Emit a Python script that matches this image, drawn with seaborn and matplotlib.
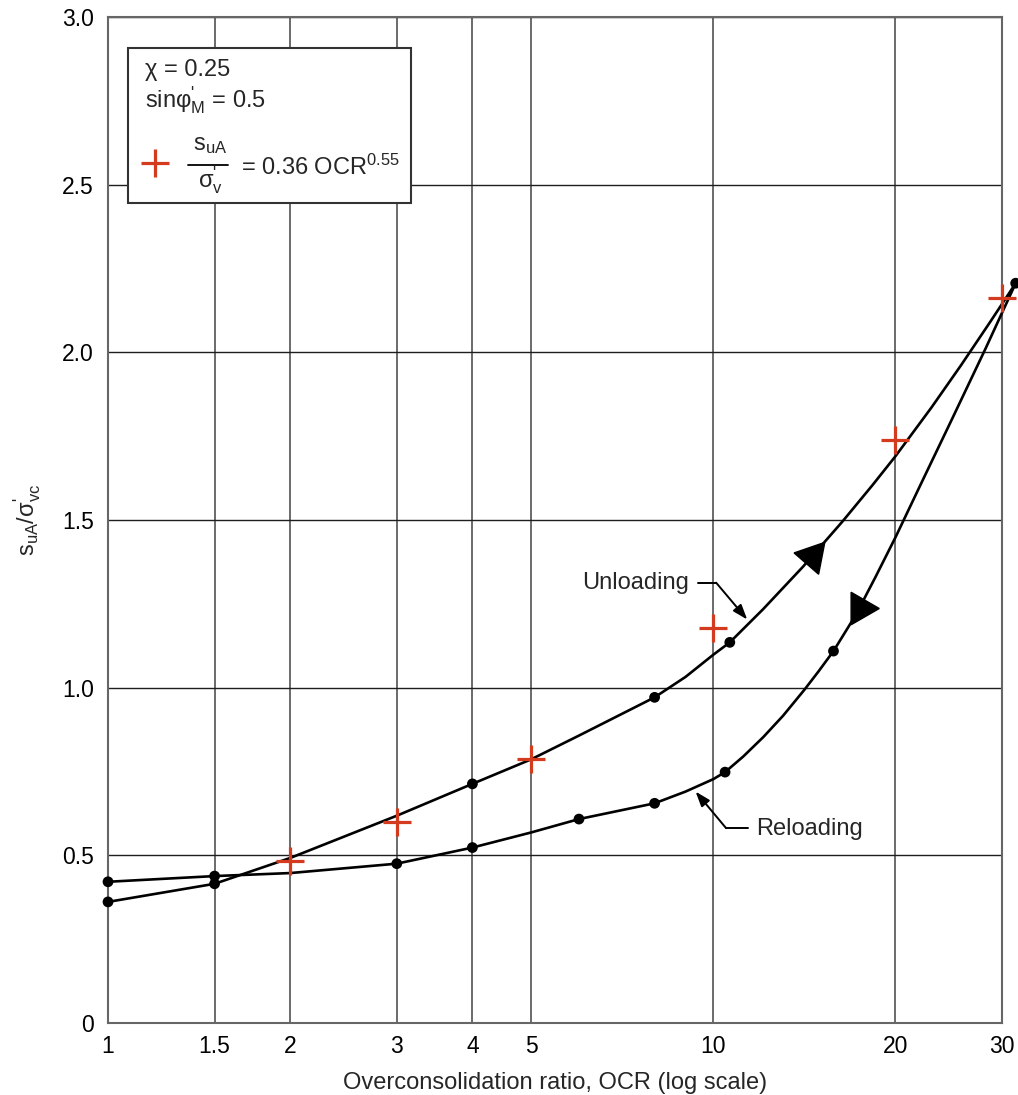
import numpy as np
import pandas as pd
import matplotlib
matplotlib.use("Agg")
import matplotlib.pyplot as plt
from matplotlib.patches import Rectangle
from matplotlib.lines import Line2D
from matplotlib.ticker import NullLocator
import seaborn as sns

# ---------------- data ----------------
# Unloading curve path (OCR, s_uA/sigma'_vc)
unl_ocr = [1.0, 1.5, 2.0, 3.0, 4.0, 5.0, 6.0, 8.0, 9.0, 10.0, 10.65, 12.09,
           14.06, 16.36, 18.33, 20.0, 22.95, 25.66, 28.69, 31.6]
unl_val = [0.361, 0.415, 0.492, 0.618, 0.713, 0.786, 0.857, 0.971, 1.032, 1.098,
           1.135, 1.234, 1.360, 1.496, 1.604, 1.690, 1.836, 1.961, 2.091, 2.206]
# Reloading curve path
rel_ocr = [31.6, 28.16, 24.73, 22.11, 20.0, 18.54, 17.19, 15.8, 14.92, 14.15,
           13.04, 12.09, 11.2, 10.46, 10.0, 9.0, 8.0, 6.0, 5.0, 4.0, 3.0, 2.0,
           1.5, 1.0]
rel_val = [2.206, 2.010, 1.796, 1.613, 1.448, 1.330, 1.216, 1.109, 1.048, 0.994,
           0.916, 0.852, 0.794, 0.748, 0.727, 0.690, 0.655, 0.608, 0.568, 0.523,
           0.475, 0.447, 0.438, 0.421]
# Measured points (black dots)
unl_dot_ocr = [1.0, 1.5, 4.0, 8.0, 10.65, 31.6]
unl_dot_val = [0.361, 0.415, 0.713, 0.971, 1.135, 2.206]
rel_dot_ocr = [1.0, 1.5, 3.0, 4.0, 6.0, 8.0, 10.46, 15.8]
rel_dot_val = [0.421, 0.438, 0.475, 0.523, 0.608, 0.655, 0.748, 1.109]
# Empirical fit points (red crosses)
fit_ocr = [2.0, 3.0, 5.0, 10.0, 20.0, 30.0]
fit_val = [0.483, 0.600, 0.786, 1.177, 1.737, 2.161]

x_ticks = [1, 1.5, 2, 3, 4, 5, 10, 20, 30]
x_tick_labels = ["1", "1.5", "2", "3", "4", "5", "10", "20", "30"]
y_ticks = [0, 0.5, 1.0, 1.5, 2.0, 2.5, 3.0]
y_tick_labels = ["0", "0.5", "1.0", "1.5", "2.0", "2.5", "3.0"]

# ---------------- style ----------------
sns.set_style("white")
plt.rcParams["font.family"] = ["Liberation Sans", "DejaVu Sans"]
plt.rcParams["mathtext.fontset"] = "custom"
plt.rcParams["mathtext.rm"] = "Liberation Sans"
plt.rcParams["mathtext.it"] = "Liberation Sans"
plt.rcParams["mathtext.sf"] = "Liberation Sans"
plt.rcParams["mathtext.bf"] = "Liberation Sans:bold"

RED = "#D43A1E"
FS = 17
PR = r"^{\text{'}}"   # straight prime mark

fig = plt.figure(figsize=(10.18, 10.95), dpi=100)
ax = fig.add_axes([0.1061, 0.0658, 0.8782, 0.9187])
ax.set_xscale("log")

# curves
sns.lineplot(x=unl_ocr, y=unl_val, sort=False, estimator=None, color="black",
             lw=1.9, ax=ax, clip_on=False, zorder=3)
sns.lineplot(x=rel_ocr, y=rel_val, sort=False, estimator=None, color="black",
             lw=1.9, ax=ax, clip_on=False, zorder=3)
# dots
sns.scatterplot(x=unl_dot_ocr, y=unl_dot_val, color="black", s=60,
                edgecolor="none", ax=ax, clip_on=False, zorder=4)
sns.scatterplot(x=rel_dot_ocr, y=rel_dot_val, color="black", s=60,
                edgecolor="none", ax=ax, clip_on=False, zorder=4)
# red crosses
sns.scatterplot(x=fit_ocr, y=fit_val, color=RED, marker="+", s=400,
                linewidth=2.3, ax=ax, clip_on=False, zorder=5)

# direction arrowheads on curves
ax.plot([14.55], [1.392], marker=(3, 0, -41), ms=27, color="black",
        linestyle="none", zorder=6, clip_on=False)
ax.plot([17.45], [1.236], marker=(3, 0, 150), ms=27, color="black",
        linestyle="none", zorder=6, clip_on=False)

# axes setup
ax.set_xlim(1, 30)
ax.set_ylim(0, 3.0)
ax.set_xticks(x_ticks)
ax.set_xticklabels(x_tick_labels)
ax.xaxis.set_minor_locator(NullLocator())
ax.set_yticks(y_ticks)
ax.set_yticklabels(y_tick_labels)
ax.tick_params(axis="both", length=0, labelsize=16.5, labelcolor="black")
ax.tick_params(axis="x", pad=9)
ax.tick_params(axis="y", pad=10)

ax.xaxis.grid(True, color="#6a6a6a", lw=1.4, zorder=0)
ax.yaxis.grid(True, color="#1e1e1e", lw=1.0, zorder=0)
ax.set_axisbelow(True)
for sp in ax.spines.values():
    sp.set_visible(True)
    sp.set_color("#666666")
    sp.set_linewidth(1.5)

ax.set_xlabel("Overconsolidation ratio, OCR (log scale)", fontsize=FS, labelpad=10)
ax.set_ylabel(r"$\mathregular{s_{uA}/\sigma" + PR + r"_{vc}}$", fontsize=FS, labelpad=14)

# curve labels with leader arrows
ax.text(9.12, 1.313, "Unloading", fontsize=FS, ha="right", va="center")
ax.plot([9.43, 10.11], [1.313, 1.313], color="black", lw=1.4)
ax.annotate("", xy=(11.38, 1.203), xytext=(10.11, 1.313),
            arrowprops=dict(arrowstyle="-|>,head_length=0.9,head_width=0.32",
                            color="black", lw=1.4, mutation_scale=10,
                            shrinkA=0, shrinkB=0))
ax.text(11.77, 0.578, "Reloading", fontsize=FS, ha="left", va="center")
ax.plot([10.50, 11.42], [0.581, 0.581], color="black", lw=1.4)
ax.annotate("", xy=(9.35, 0.690), xytext=(10.50, 0.581),
            arrowprops=dict(arrowstyle="-|>,head_length=0.9,head_width=0.32",
                            color="black", lw=1.4, mutation_scale=10,
                            shrinkA=0, shrinkB=0))

# legend box
T = ax.transAxes
ax.add_patch(Rectangle((0.0224, 0.815), 0.3166, 0.154, transform=T,
                       facecolor="white", edgecolor="#333333", lw=1.5, zorder=7))
ax.text(0.041, 0.947, "\u03c7 = 0.25", transform=T, fontsize=FS,
        ha="left", va="center", zorder=8)
ax.text(0.041, 0.917, r"sin$\mathregular{\varphi" + PR + r"_{M}}$ = 0.5",
        transform=T, fontsize=FS, ha="left", va="center", zorder=8)
ax.plot([0.0526], [0.855], marker="+", ms=20, mew=2.3, color=RED,
        transform=T, zorder=8, linestyle="none")
# fraction s_uA / sigma'_v
ax.text(0.1141, 0.8678, r"$\mathregular{s_{uA}}$", transform=T, fontsize=FS,
        ha="center", va="baseline", zorder=8)
ax.add_line(Line2D([0.0895, 0.1342], [0.8529, 0.8529], transform=T,
                   color="black", lw=1.3, zorder=8))
ax.text(0.1141, 0.8310, r"$\mathregular{\sigma" + PR + r"_{v}}$", transform=T,
        fontsize=FS, ha="center", va="baseline", zorder=8)
ax.text(0.1488, 0.8429, r"= 0.36 OCR$^{\mathregular{0.55}}$", transform=T,
        fontsize=FS, ha="left", va="baseline", zorder=8)

fig.savefig("out.png", dpi=100)
